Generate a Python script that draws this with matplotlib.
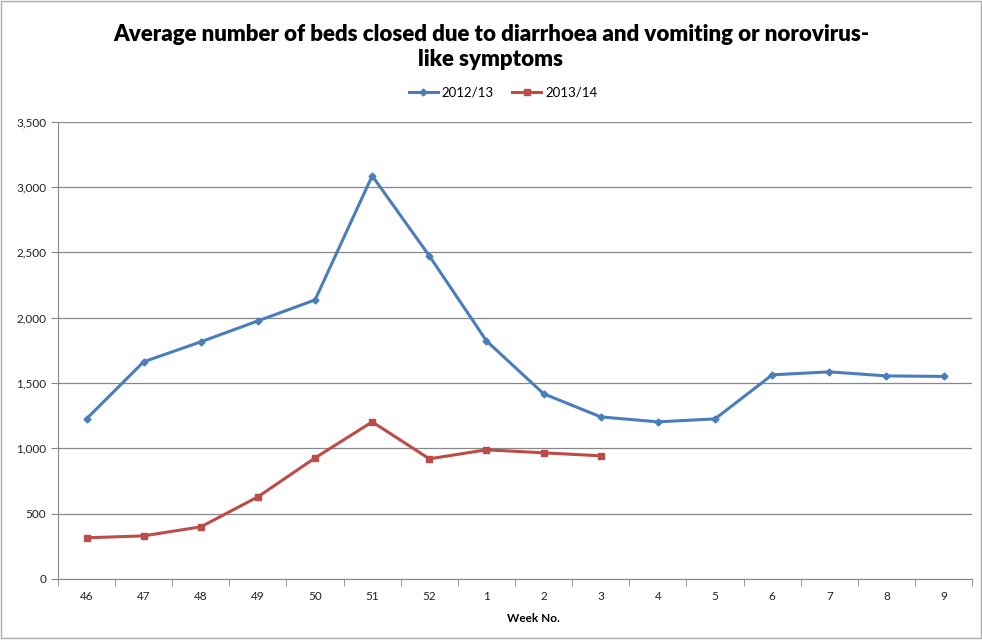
import numpy as np
import matplotlib.pyplot as plt
from matplotlib.patches import Rectangle
from matplotlib.ticker import FuncFormatter

plt.rcParams['font.family'] = ['Lato', 'DejaVu Sans']

weeks = ['46', '47', '48', '49', '50', '51', '52', '1', '2', '3', '4', '5', '6', '7', '8', '9']
beds_2012 = [1225, 1662, 1815, 1975, 2136, 3086, 2473, 1822, 1417, 1240, 1202, 1225, 1562, 1585, 1554, 1550]
beds_2013 = [314, 329, 398, 628, 926, 1202, 919, 988, 965, 942]

fig = plt.figure(figsize=(9.82, 6.41), dpi=100)
ax = fig.add_axes([0.059, 0.097, 0.931, 0.713])

x = np.arange(len(weeks))
ax.plot(x, beds_2012, color='#4a7ebb', lw=2.2, marker='D', ms=3.5, label='2012/13')
ax.plot(x[:len(beds_2013)], beds_2013, color='#be4b48', lw=2.2, marker='s', ms=5, label='2013/14')

ax.set_ylim(0, 3500)
ax.set_yticks(np.arange(0, 3501, 500))
ax.yaxis.set_major_formatter(FuncFormatter(lambda v, p: f'{int(v):,}'))
ax.set_xlim(-0.5, len(weeks) - 0.5)
ax.set_xticks(x)
ax.set_xticklabels(weeks)
ax.set_xticks(np.arange(-0.5, len(weeks)), minor=True)
ax.tick_params(axis='x', which='major', length=0, pad=9, labelsize=8.5, colors='#222222')
ax.tick_params(axis='x', which='minor', length=5, color='#888888', direction='out')
ax.tick_params(axis='y', length=5, color='#888888', labelsize=8.5, labelcolor='#222222')

ax.grid(axis='y', color='#888888', lw=0.9)
ax.set_axisbelow(True)
for s in ['top', 'right']:
    ax.spines[s].set_visible(False)
for s in ['left', 'bottom']:
    ax.spines[s].set_color('#888888')

ax.set_xlabel('Week No.', fontsize=8.5, fontweight='bold')
ax.xaxis.set_label_coords(0.52, -0.075)

fig.suptitle('Average number of beds closed due to diarrhoea and vomiting or norovirus-\nlike symptoms',
             x=0.5, y=0.963, fontsize=16, fontweight='heavy', linespacing=1.25)

ax.legend(loc='center', bbox_to_anchor=(0.487, 1.063), ncol=2, frameon=False,
          fontsize=9.5, handlelength=2.2, columnspacing=1.4, handletextpad=0.3)

fig.patches.append(Rectangle((0.001, 0.004), 0.998, 0.994, transform=fig.transFigure,
                             fill=False, ec='#aaaaaa', lw=1))

fig.savefig('out.png', dpi=100)
